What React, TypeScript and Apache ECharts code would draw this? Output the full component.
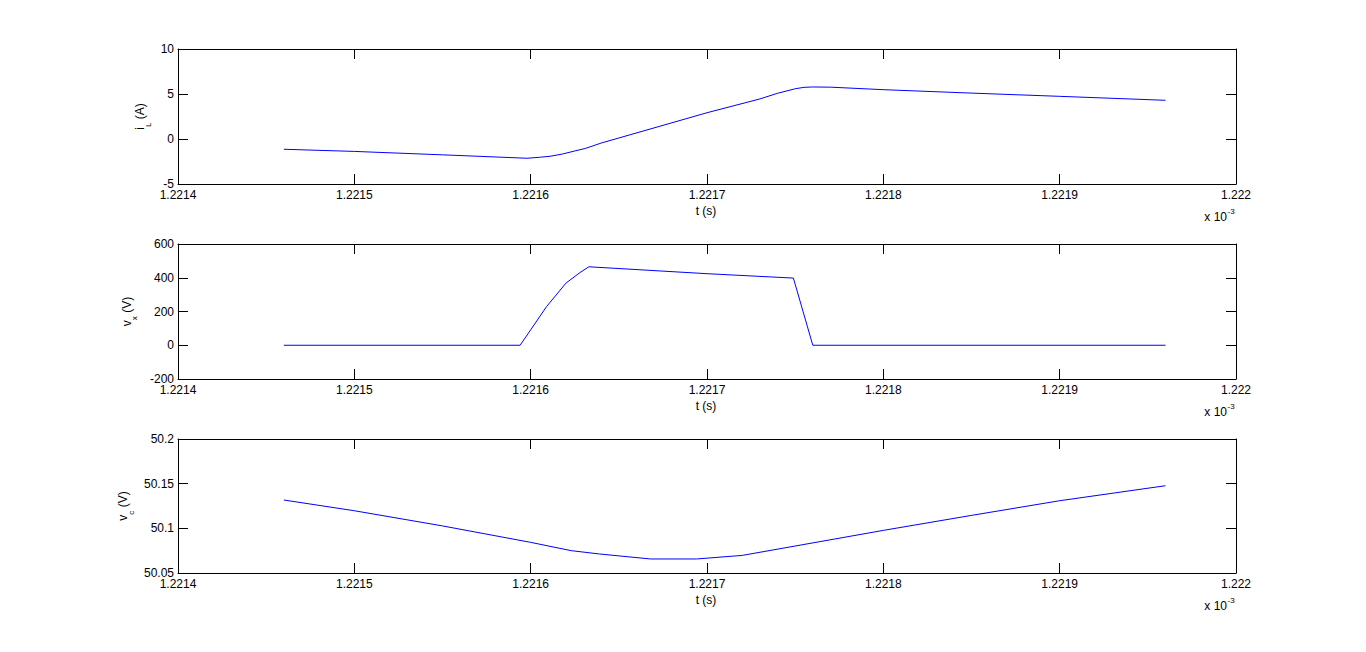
import React, { useEffect, useRef } from "react";
import * as echarts from "echarts";

// ---- data (time in units of 1e-3 s) ----
const xMin = 1.2214;
const xMax = 1.222;
const xStep = 0.0001;

const iLTime = [1.22146, 1.2215, 1.22155, 1.221598, 1.221605, 1.221611, 1.221618, 1.221625, 1.221631, 1.22164, 1.2217, 1.22173, 1.22174, 1.22175, 1.221755, 1.22176, 1.22177, 1.2218, 1.22185, 1.2219, 1.22196];
const iLValues = [-1.14, -1.38, -1.76, -2.14, -2.03, -1.92, -1.67, -1.33, -1.05, -0.45, 2.92, 4.45, 5.08, 5.58, 5.74, 5.78, 5.76, 5.48, 5.1, 4.74, 4.3];

const vxTime = [1.22146, 1.221594, 1.2216, 1.221609, 1.22162, 1.221628, 1.221633, 1.2217, 1.221749, 1.22176, 1.22196];
const vxValues = [0, 0, 91, 229, 368, 431, 465, 424, 398, 0, 0];

const vcTime = [1.22146, 1.2215, 1.22155, 1.2216, 1.221623, 1.221639, 1.221668, 1.221694, 1.22172, 1.2218, 1.22185, 1.2219, 1.22196];
const vcValues = [50.1317, 50.1197, 50.1027, 50.0843, 50.075, 50.0713, 50.0657, 50.0657, 50.0697, 50.0977, 50.1145, 50.1309, 50.1477];

const yRanges = [
  { min: -5, max: 10, interval: 5 },
  { min: -200, max: 600, interval: 200 },
  { min: 50.05, max: 50.2, interval: 0.05 },
];
const yNames = [
  { main: "i", sub: "L", rest: " (A)" },
  { main: "v", sub: "x", rest: " (V)" },
  { main: "v", sub: "c", rest: " (V)" },
];
const xName = "t (s)";
const multiplierBase = "x 10";
const multiplierExp = "-3";

const FONT = "'Liberation Sans', Arial, Helvetica, sans-serif";
const gridLeft = 178;
const gridWidth = 1058;
const grids = [
  { top: 49, height: 135 },
  { top: 244, height: 135 },
  { top: 439, height: 134 },
];
const yNameBaseline = [144.5, 131, 127.5];

const fmt = (v: number) => String(parseFloat(v.toFixed(4)));

function measure(text: string, size: number) {
  const c = document.createElement("canvas").getContext("2d")!;
  c.font = `${size}px 'Liberation Sans', Arial, sans-serif`;
  return c.measureText(text).width;
}

export default function App() {
  const ref = useRef<HTMLDivElement>(null);
  useEffect(() => {
    const chart = echarts.init(ref.current!, null, { renderer: "svg" });
    const xAxes: any[] = [];
    const yAxes: any[] = [];
    const series: any[] = [];
    const graphics: any[] = [];
    const datasets = [
      [iLTime, iLValues],
      [vxTime, vxValues],
      [vcTime, vcValues],
    ];
    const tick = { show: true, inside: true, length: 10, lineStyle: { color: "#000", width: 1 } };
    const line = { show: true, onZero: false, lineStyle: { color: "#000", width: 1 } };
    const xLabel = { color: "#000", fontSize: 12, lineHeight: 10, fontFamily: FONT, margin: 6, formatter: fmt };
    const yLabel = { color: "#000", fontSize: 12, lineHeight: 10, fontFamily: FONT, margin: 4, formatter: fmt };

    grids.forEach((g, i) => {
      xAxes.push({
        type: "value", gridIndex: i, position: "bottom", min: xMin, max: xMax, interval: xStep,
        axisLine: line, axisTick: tick, axisLabel: xLabel, splitLine: { show: false },
      });
      xAxes.push({
        type: "value", gridIndex: i, position: "top", min: xMin, max: xMax, interval: xStep,
        axisLine: line, axisTick: tick, axisLabel: { show: false }, splitLine: { show: false },
      });
      const r = yRanges[i];
      yAxes.push({
        type: "value", gridIndex: i, position: "left", min: r.min, max: r.max, interval: r.interval,
        axisLine: line, axisTick: tick, axisLabel: yLabel, splitLine: { show: false },
      });
      yAxes.push({
        type: "value", gridIndex: i, position: "right", min: r.min, max: r.max, interval: r.interval,
        axisLine: line, axisTick: tick, axisLabel: { show: false }, splitLine: { show: false },
      });
      const [t, v] = datasets[i];
      series.push({
        type: "line", xAxisIndex: 2 * i, yAxisIndex: 2 * i, showSymbol: false, symbol: "none",
        data: t.map((tt, k) => [tt, v[k]]),
        lineStyle: { color: "#0000ff", width: 1 }, itemStyle: { color: "#0000ff" },
      });

      const bottom = g.top + g.height;
      graphics.push({
        type: "text", x: gridLeft + gridWidth / 2 - 1, y: bottom + 27.3,
        style: { text: xName, font: `12px ${FONT}`, fill: "#000", textAlign: "center", textVerticalAlign: "middle" },
      });
      graphics.push({
        type: "text", x: 1227, y: bottom + 32.7,
        style: { text: multiplierBase, font: `12px ${FONT}`, fill: "#000", textAlign: "right", textVerticalAlign: "middle" },
      });
      graphics.push({
        type: "text", x: 1227.5, y: bottom + 27.7,
        style: { text: multiplierExp, font: `8px ${FONT}`, fill: "#000", textAlign: "left", textVerticalAlign: "middle" },
      });
      const n = yNames[i];
      const wMain = measure(n.main, 12);
      const wSub = measure(n.sub, 8);
      const wRest = measure(n.rest, 12);
      const total = wMain + wSub + wRest;
      const cy = g.top + g.height / 2;
      const yBottom = cy + total / 2;
      const base = yNameBaseline[i];
      const rot = Math.PI / 2;
      graphics.push({
        type: "text", x: base - 4.2, y: yBottom, rotation: rot,
        style: { text: n.main, font: `12px ${FONT}`, fill: "#000", textAlign: "left", textVerticalAlign: "middle" },
      });
      graphics.push({
        type: "text", x: base + 6.5 - 2.8, y: yBottom - wMain, rotation: rot,
        style: { text: n.sub, font: `8px ${FONT}`, fill: "#000", textAlign: "left", textVerticalAlign: "middle" },
      });
      graphics.push({
        type: "text", x: base - 4.2, y: yBottom - wMain - wSub, rotation: rot,
        style: { text: n.rest, font: `12px ${FONT}`, fill: "#000", textAlign: "left", textVerticalAlign: "middle" },
      });
    });

    chart.setOption({
      animation: false,
      backgroundColor: "#fff",
      grid: grids.map((g) => ({ left: gridLeft, width: gridWidth, top: g.top, height: g.height, containLabel: false })),
      xAxis: xAxes,
      yAxis: yAxes,
      series,
      graphic: graphics,
    });
    return () => chart.dispose();
  }, []);
  return <div ref={ref} style={{ position: "absolute", left: 0, top: 0, width: 1366, height: 652, background: "#fff" }} />;
}
